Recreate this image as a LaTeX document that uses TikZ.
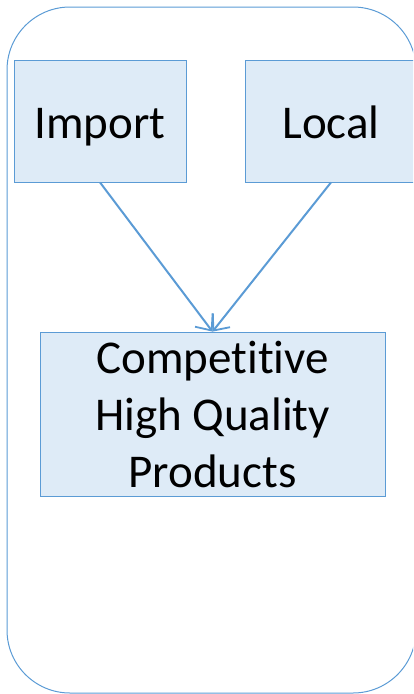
\documentclass[tikz,border=0pt]{standalone}
\usepackage{fontspec}
\setmainfont[Ligatures=NoCommon]{Carlito}
\usepackage{tikz}
\usetikzlibrary{arrows.meta,positioning}
\definecolor{boxline}{RGB}{91,155,213}
\definecolor{boxfill}{RGB}{222,235,247}
\tikzstyle{box node}=[draw=boxline,fill=boxfill,line width=0.8pt,inner sep=0,font=\fontsize{47}{57}\selectfont,align=center]
\tikzstyle{top node}=[box node,minimum width=172pt,minimum height=122pt,text height=36pt,text depth=2pt]
\tikzstyle{flow}=[draw=boxline,line width=2pt,-{Straight Barb[length=13pt,width=22pt,line width=1.8pt]}]

\begin{document}
\begin{tikzpicture}[x=1pt,y=-1pt]
		\useasboundingbox (0,0) rectangle (413,694);
		\clip (0,0) rectangle (413,694);
		
		\draw[boxline,line width=1pt,rounded corners=63pt] (7,7) rectangle (416,693);
		
		\node(import)[top node] at (100,121){Import};
		\node(local)[top node] at (331,121){Local};
		\node(products)[box node,minimum width=345pt,minimum height=164pt] at (212.5,414){Competitive\\High Quality\\Products};
		
		\draw[flow] (import.south) -- (products.north);
		\draw[flow] (local.south) -- (products.north);
		
		\end{tikzpicture}
\end{document}
